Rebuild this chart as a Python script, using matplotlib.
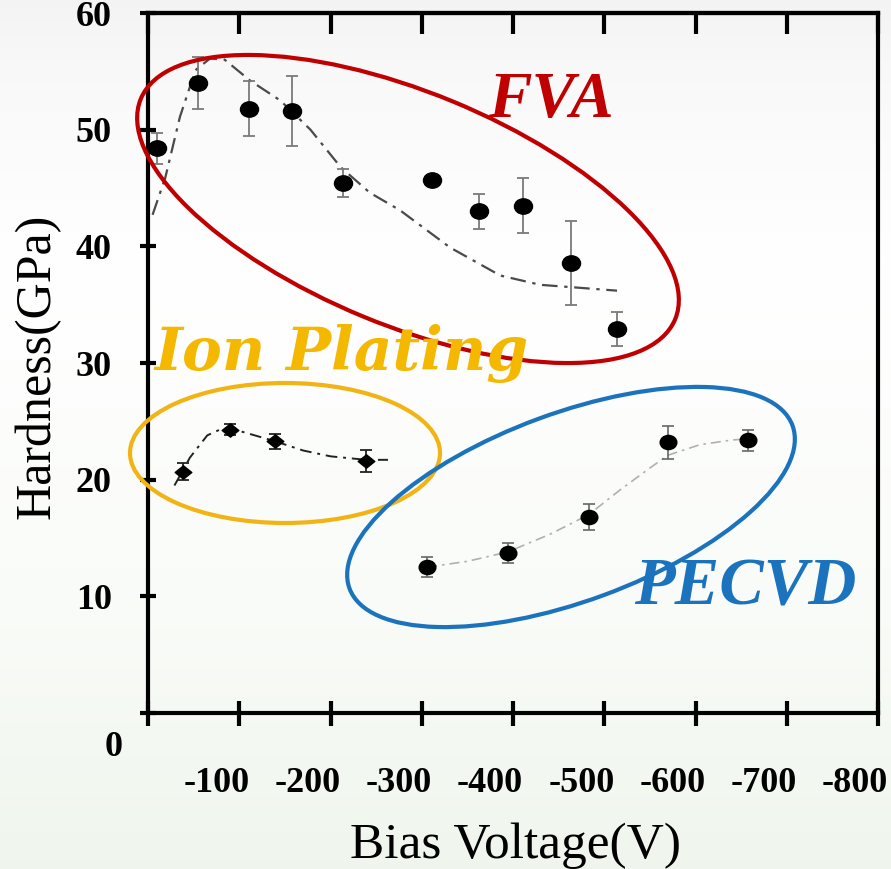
"""
plot.py: Hardness vs bias voltage for FVA, ion plating and PECVD films
"""
import numpy as np
import matplotlib
matplotlib.use("Agg")
import matplotlib.pyplot as plt
from matplotlib.patches import Ellipse
from matplotlib.path import Path
from matplotlib.transforms import ScaledTranslation

plt.rcParams['font.family'] = ['Liberation Serif', 'DejaVu Serif']

# FVA measurements (bias in V, hardness in GPa)
fva_bias = [-10, -55, -111, -158, -214, -311, -363, -411, -464, -514]
fva_hard = [48.4, 54.0, 51.8, 51.6, 45.4, 45.7, 43.0, 43.5, 38.6, 32.9]
fva_err = [1.3, 2.2, 2.35, 3.0, 1.2, 0.0, 1.5, 2.35, 3.6, 1.45]
# FVA trend line
fva_fit_bias = [-5, -19, -35, -52, -68, -84, -112, -145, -178, -211, -243,
                -276, -331, -386, -430, -464, -514]
fva_fit_hard = [42.7, 45.9, 51.1, 55.1, 56.1, 56.0, 54.2, 52.5, 50.0, 46.8,
                44.6, 43.1, 39.9, 37.5, 36.7, 36.5, 36.2]

# Ion plating
ion_bias = [-38, -90, -139, -239]
ion_hard = [20.7, 24.3, 23.3, 21.6]
ion_err = [0.7, 0.5, 0.65, 0.95]
ion_fit_bias = [-29, -46, -65, -79, -90, -108, -139, -170, -200, -239, -263]
ion_fit_hard = [19.5, 21.9, 23.8, 24.3, 24.4, 24.0, 23.3, 22.5, 22.0, 21.7, 21.7]

# PECVD
pecvd_bias = [-306, -394, -483, -570, -658]
pecvd_hard = [12.5, 13.7, 16.8, 23.2, 23.4]
pecvd_err = [0.85, 0.85, 1.1, 1.4, 0.9]
pecvd_fit_bias = [-306, -350, -394, -440, -483, -517, -550, -570, -605, -640, -658]
pecvd_fit_hard = [12.5, 13.0, 13.8, 15.3, 17.0, 19.1, 21.0, 22.1, 23.0, 23.4, 23.5]

x_ticks = [0, -100, -200, -300, -400, -500, -600, -700, -800]
x_labels = ['', '-100', '-200', '-300', '-400', '-500', '-600', '-700', '-800']
y_ticks = [0, 10, 20, 30, 40, 50, 60]
y_labels = ['', '10', '20', '30', '40', '50', '60']

# slightly squashed markers like the original
circ = Path.unit_circle()
oval = Path(circ.vertices * [1, 0.85], circ.codes)
diamond = Path([(1, 0), (0, 0.8), (-1, 0), (0, -0.8), (1, 0)],
               [Path.MOVETO, Path.LINETO, Path.LINETO, Path.LINETO,
                Path.CLOSEPOLY])

W, H = 891, 869
fig = plt.figure(figsize=(W / 100, H / 100), dpi=100)

# slide background: grey at the top, white, pale green at the bottom
bg = fig.add_axes([0, 0, 1, 1], zorder=-10)
rows = np.arange(H)
stops = [0, 70, 260, 600, H]
grad = np.stack([
    np.interp(rows, stops, [0.955, 0.975, 1.0, 0.978, 0.94]),
    np.interp(rows, stops, [0.955, 0.975, 1.0, 0.987, 0.962]),
    np.interp(rows, stops, [0.955, 0.975, 1.0, 0.973, 0.93]),
], axis=-1)[:, None, :]
bg.imshow(np.repeat(grad, 4, axis=1), aspect='auto', extent=[0, 1, 0, 1])
bg.axis('off')

ax = fig.add_axes([148 / W, 1 - 713 / H, 730 / W, 700 / H])
ax.patch.set_alpha(0)

ax.plot(fva_fit_bias, fva_fit_hard, color='#4a4a4a', lw=1.6,
        dashes=(7, 3, 1.5, 3), zorder=2)
ax.errorbar(fva_bias, fva_hard, yerr=fva_err, fmt='none', ecolor='#7a7a7a',
            elinewidth=1.3, capsize=4, capthick=1.3, zorder=3)
ax.plot(fva_bias, fva_hard, ls='none', marker=oval, ms=13, color='black',
        zorder=4)

ax.plot(ion_fit_bias, ion_fit_hard, color='#222222', lw=1.4,
        dashes=(6, 3, 1.5, 3), zorder=2)
ax.errorbar(ion_bias, ion_hard, yerr=ion_err, fmt='none', ecolor='#222222',
            elinewidth=1.3, capsize=4, capthick=1.3, zorder=3)
ax.plot(ion_bias, ion_hard, ls='none', marker=diamond, ms=12, color='black',
        zorder=4)

ax.plot(pecvd_fit_bias, pecvd_fit_hard, color='#b0b0b0', lw=1.2,
        dashes=(6, 3, 1.5, 3), zorder=2)
ax.errorbar(pecvd_bias, pecvd_hard, yerr=pecvd_err, fmt='none',
            ecolor='#666666', elinewidth=1.2, capsize=4, capthick=1.2, zorder=3)
ax.plot(pecvd_bias, pecvd_hard, ls='none', marker=oval, ms=12, color='black',
        zorder=4)

ax.set_xlim(0, -800)
ax.set_ylim(0, 60)
ax.set_xticks(x_ticks, labels=x_labels, fontweight='bold', fontsize=26)
ax.set_yticks(y_ticks, labels=y_labels, fontweight='bold', fontsize=26)
ax.tick_params(axis='x', direction='inout', length=18, width=3, pad=30)
ax.tick_params(axis='y', direction='inout', length=12, width=3, pad=20)
for s in ax.spines.values():
    s.set_linewidth(3)

# the x labels sit a bit left of their ticks on the original slide
shift = ScaledTranslation(-0.23, 0, fig.dpi_scale_trans)
for lbl in ax.get_xticklabels():
    lbl.set_transform(lbl.get_transform() + shift)

ax.annotate('0', xy=(0, 0), xytext=(-25, -24.5), textcoords='offset points',
            ha='center', va='center', fontsize=26, fontweight='bold')

top = ax.secondary_xaxis('top')
top.set_xticks(x_ticks, labels=[''] * len(x_ticks))
top.tick_params(direction='in', length=15, width=3)
top.spines['top'].set_linewidth(3)

fig.text(37 / W, 1 - 366 / H, 'Hardness(GPa)', rotation=90, ha='center',
         va='center', fontsize=36)
fig.text(516 / W, 1 - 858 / H, 'Bias Voltage(V)', ha='center',
         va='baseline', fontsize=37)

# group outlines and names, in slide pixel units
ov = fig.add_axes([0, 0, 1, 1], zorder=5)
ov.set_xlim(0, W)
ov.set_ylim(H, 0)
ov.axis('off')
ov.add_patch(Ellipse((408, 209), 578, 233, angle=22.4, fill=False,
                     ec='#c00000', lw=3))
ov.add_patch(Ellipse((285, 453), 310, 140, angle=0, fill=False,
                     ec='#f2b415', lw=3))
ov.add_patch(Ellipse((571, 507), 472, 188, angle=-20.2, fill=False,
                     ec='#1b72bd', lw=3))
ov.text(551, 117, 'FVA', color='#c00000', fontsize=47, fontweight='bold',
        style='italic', ha='center', va='baseline')
ov.text(341, 370, 'Ion Plating', color='#f5b800', fontsize=43,
        fontweight='bold', style='italic', family='DejaVu Serif',
        ha='center', va='baseline', zorder=1)
ov.text(745, 605, 'PECVD', color='#1b72bd', fontsize=48, fontweight='bold',
        style='italic', ha='center', va='baseline')

fig.savefig('out.png', dpi=100)
